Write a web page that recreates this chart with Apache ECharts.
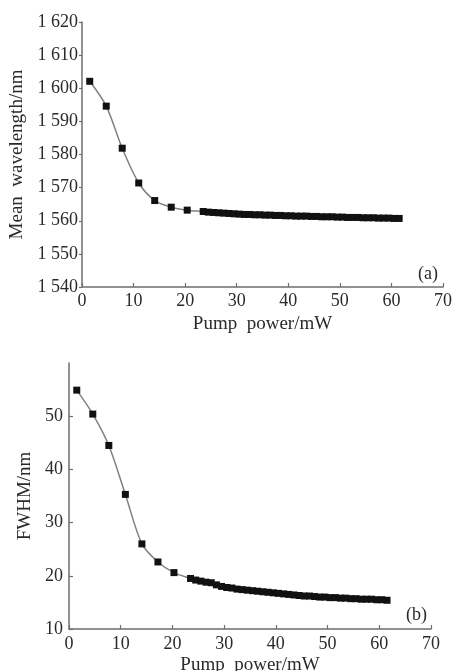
<!DOCTYPE html>
<html><head><meta charset="utf-8">
<script src="https://cdn.jsdelivr.net/npm/echarts@6/dist/echarts.min.js"></script>
<style>html,body{margin:0;padding:0;background:#fff}#c{width:456px;height:671px}</style>
</head><body><div id="c"></div>
<script>
// Panel (a): mean wavelength vs pump power
const powerA = [1.5, 4.7, 7.8, 11.0, 14.1, 17.3, 20.4,
  23.5, 24.5, 25.5, 26.5, 27.5, 28.5, 29.5, 30.5, 31.5, 32.5, 33.5, 34.5, 35.5, 36.5, 37.5, 38.5, 39.5, 40.5,
  41.5, 42.5, 43.5, 44.5, 45.5, 46.5, 47.5, 48.5, 49.5, 50.5, 51.5, 52.5, 53.5, 54.5, 55.5, 56.5, 57.5, 58.5,
  59.5, 60.5, 61.5];
const wavelength = [1602.1, 1594.6, 1581.9, 1571.4, 1566.1, 1564.1, 1563.2,
  1562.8, 1562.6, 1562.5, 1562.4, 1562.3, 1562.2, 1562.1, 1562.0, 1561.9, 1561.9, 1561.8, 1561.8, 1561.7, 1561.7, 1561.6, 1561.6, 1561.5, 1561.5,
  1561.4, 1561.4, 1561.4, 1561.3, 1561.3, 1561.2, 1561.2, 1561.2, 1561.1, 1561.1, 1561.0, 1561.0, 1561.0, 1560.9, 1560.9, 1560.9, 1560.8, 1560.8,
  1560.8, 1560.7, 1560.7];
// Panel (b): FWHM vs pump power
const powerB = [1.5, 4.6, 7.7, 10.9, 14.1, 17.2, 20.3,
  23.5, 24.5, 25.5, 26.5, 27.5, 28.5, 29.5, 30.5, 31.5, 32.5, 33.5, 34.5, 35.5, 36.5, 37.5, 38.5, 39.5, 40.5,
  41.5, 42.5, 43.5, 44.5, 45.5, 46.5, 47.5, 48.5, 49.5, 50.5, 51.5, 52.5, 53.5, 54.5, 55.5, 56.5, 57.5, 58.5,
  59.5, 60.5, 61.5];
const fwhm = [54.9, 50.4, 44.5, 35.3, 26.0, 22.6, 20.6,
  19.5, 19.2, 19.0, 18.8, 18.7, 18.3, 18.0, 17.8, 17.7, 17.5, 17.4, 17.3, 17.2, 17.1, 17.0, 16.9, 16.8, 16.7,
  16.6, 16.5, 16.4, 16.3, 16.2, 16.2, 16.1, 16.0, 16.0, 15.9, 15.9, 15.8, 15.8, 15.7, 15.7, 15.6, 15.6, 15.6,
  15.5, 15.5, 15.4];
const xTicks = [0, 10, 20, 30, 40, 50, 60, 70];
const yTicksA = [1540, 1550, 1560, 1570, 1580, 1590, 1600, 1610, 1620];
const yTicksB = [10, 20, 30, 40, 50];
const xTitle = 'Pump  power/mW';
const yTitleA = 'Mean  wavelength/nm';
const yTitleB = 'FWHM/nm';

const FONT = 'Liberation Serif';
const AX = '#6e6e6e';
const TXT = '#2a2a2a';
function pair(xs, ys) { return xs.map((x, i) => [x, ys[i]]); }
function xAxis(gi, gap, margin) {
  return {
    type: 'value', gridIndex: gi, min: xTicks[0], max: xTicks[xTicks.length - 1], interval: 10,
    name: xTitle, nameLocation: 'middle', nameGap: gap,
    nameTextStyle: { fontFamily: FONT, fontSize: 19, color: TXT, verticalAlign: 'top' },
    axisLine: { lineStyle: { color: AX, width: 1.5 } },
    axisTick: { inside: true, length: 4, lineStyle: { color: AX, width: 1.2 } },
    axisLabel: { fontFamily: FONT, fontSize: 18, color: TXT, margin: margin },
    splitLine: { show: false }
  };
}
const chart = echarts.init(document.getElementById('c'), null, { renderer: 'canvas' });
chart.setOption({
  backgroundColor: '#fff',
  animation: false,
  grid: [
    { left: 82, top: 22, width: 361, height: 265, containLabel: false, outerBoundsMode: 'none' },
    { left: 69, top: 363, width: 362, height: 266, containLabel: false, outerBoundsMode: 'none' }
  ],
  xAxis: [xAxis(0, 28, 5), xAxis(1, 27, 6)],
  yAxis: [
    {
      type: 'value', gridIndex: 0, min: yTicksA[0], max: yTicksA[yTicksA.length - 1], interval: 10,
      name: yTitleA, nameLocation: 'middle', nameGap: 54,
      nameTextStyle: { fontFamily: FONT, fontSize: 19, color: TXT },
      axisLine: { show: true, lineStyle: { color: AX, width: 1.5 } },
      axisTick: { show: true, inside: false, length: 3, lineStyle: { color: AX, width: 1.2 } },
      axisLabel: { fontFamily: FONT, fontSize: 18, color: TXT, margin: 4,
        formatter: v => { const s = String(v); return s.slice(0, 1) + ' ' + s.slice(1); } },
      splitLine: { show: false }
    },
    {
      type: 'value', gridIndex: 1, min: 10, max: 60, interval: 10,
      name: yTitleB, nameLocation: 'middle', nameGap: 29,
      nameTextStyle: { fontFamily: FONT, fontSize: 19, color: TXT },
      axisLine: { show: true, lineStyle: { color: AX, width: 1.5 } },
      axisTick: { show: true, inside: true, length: 4, customValues: yTicksB, lineStyle: { color: AX, width: 1.2 } },
      axisLabel: { fontFamily: FONT, fontSize: 18, color: TXT, margin: 6, customValues: yTicksB },
      splitLine: { show: false }
    }
  ],
  series: [
    { type: 'line', xAxisIndex: 0, yAxisIndex: 0, data: pair(powerA, wavelength), smooth: 0.3,
      symbol: 'rect', symbolSize: 7, itemStyle: { color: '#111' },
      lineStyle: { color: '#808080', width: 1.5 } },
    { type: 'line', xAxisIndex: 1, yAxisIndex: 1, data: pair(powerB, fwhm), smooth: 0.3,
      symbol: 'rect', symbolSize: 7, itemStyle: { color: '#111' },
      lineStyle: { color: '#808080', width: 1.5 } }
  ],
  graphic: [
    { type: 'text', left: 418, top: 265, style: { text: '(a)', font: '18px "Liberation Serif"', fill: TXT } },
    { type: 'text', left: 406, top: 606, style: { text: '(b)', font: '18px "Liberation Serif"', fill: TXT } }
  ]
});
</script></body></html>
